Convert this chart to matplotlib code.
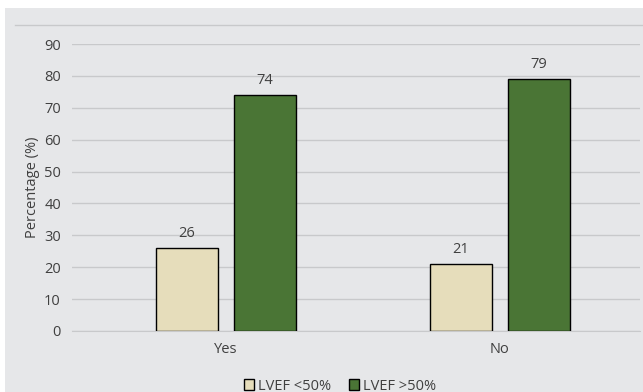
import matplotlib
matplotlib.use("Agg")
import matplotlib.pyplot as plt
from matplotlib.patches import Rectangle
from matplotlib.lines import Line2D
import numpy as np

# data
categories = ["Yes", "No"]
lvef_low = [26, 21]    # LVEF <50%
lvef_high = [74, 79]   # LVEF >50%
series_labels = ["LVEF <50%", "LVEF >50%"]

BG = "#e6e7e9"
TXT = "#404040"
C_LOW = "#e6ddbb"
C_HIGH = "#4a7535"
FS = 10.5

plt.rcParams["font.family"] = ["Open Sans", "DejaVu Sans"]

fig = plt.figure(figsize=(6.43, 3.92), dpi=100)
fig.patch.set_facecolor("white")
fig.patches.append(Rectangle((5 / 643, 0), 1, 1 - 8 / 392, transform=fig.transFigure,
                             facecolor=BG, edgecolor="none", zorder=-10))
fig.lines.append(Line2D([15 / 643, 1], [1 - 25 / 392] * 2, transform=fig.transFigure,
                        color="#c8c9cb", lw=1))

ax = fig.add_axes([72 / 643, 1 - 331 / 392, 568 / 643, (331 - 44) / 392])
ax.set_facecolor(BG)

x = np.arange(len(categories))
w = 0.226
off = 0.142
b1 = ax.bar(x - off, lvef_low, w, color=C_LOW, edgecolor="black", lw=1, label=series_labels[0], zorder=3)
b2 = ax.bar(x + off, lvef_high, w, color=C_HIGH, edgecolor="black", lw=1, label=series_labels[1], zorder=3)

for bars in (b1, b2):
    for r in bars:
        ax.text(r.get_x() + r.get_width() / 2, r.get_height() + 2.2, f"{r.get_height():.0f}",
                ha="center", va="bottom", color=TXT, fontsize=FS, clip_on=False)

ax.set_xlim(-0.562, 1.511)
ax.set_ylim(0, 90)
ax.set_yticks(range(0, 91, 10))
ax.yaxis.grid(True, color="#c8c9cb", lw=1, zorder=0)
ax.set_axisbelow(True)
ax.set_xticks(x)
ax.set_xticklabels(categories)
ax.tick_params(axis="both", length=0, colors=TXT, labelsize=FS)
ax.tick_params(axis="y", pad=8)
ax.tick_params(axis="x", pad=8)
for s in ax.spines.values():
    s.set_visible(False)
ax.spines["bottom"].set_visible(True)
ax.spines["bottom"].set_color("#c8c9cb")

ax.set_ylabel("Percentage (%)", color=TXT, fontsize=FS, labelpad=0)
ax.yaxis.set_label_coords(-0.056, 0.5)

fig.legend(handles=[b1, b2], loc="center", bbox_to_anchor=(340 / 643, 1 - 386 / 392),
           ncol=2, frameon=False, fontsize=FS, labelcolor=TXT, handlelength=0.7,
           handleheight=0.7, handletextpad=0.3, columnspacing=1.2)

fig.savefig("out.png", dpi=100, facecolor=fig.get_facecolor())
